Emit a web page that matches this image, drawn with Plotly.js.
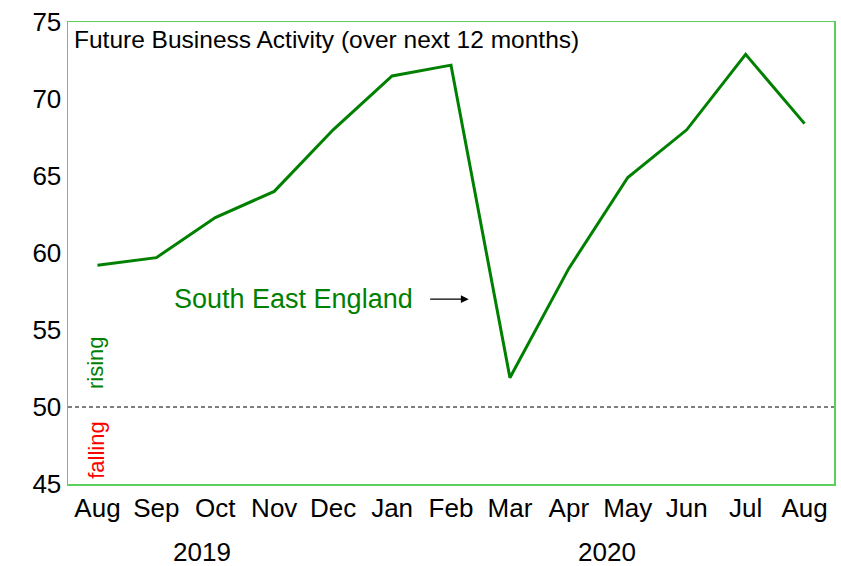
<!DOCTYPE html>
<html>
<head>
<meta charset="utf-8">
<script src="https://cdn.plot.ly/plotly-3.0.1.min.js"></script>
<style>html,body{margin:0;padding:0;background:#fff;}#chart{width:841px;height:566px;}</style>
</head>
<body>
<div id="chart"></div>
<script>
const months = ["Aug","Sep","Oct","Nov","Dec","Jan","Feb","Mar","Apr","May","Jun","Jul","Aug"];
const values = [59.2, 59.7, 62.3, 64.0, 68.0, 71.5, 72.2, 51.9, 59.0, 64.9, 68.0, 72.9, 68.4];
const yearLabels = ["2019", "2020"];
const yearPositions = [1.78, 8.64];
const seriesName = "South East England";
const chartTitle = "Future Business Activity (over next 12 months)";
const yTicks = [45, 50, 55, 60, 65, 70, 75];

const FONT = '"Liberation Sans", Arial, sans-serif';
const xIdx = months.map((m, i) => i);

const trace = {
  x: xIdx, y: values, type: "scatter", mode: "lines",
  line: {color: "#008000", width: 3},
  hoverinfo: "skip", showlegend: false
};

const annotations = [
  {text: chartTitle, xref: "paper", yref: "paper", x: 0.005, y: 0.995, xanchor: "left", yanchor: "top",
   showarrow: false, font: {family: FONT, size: 24.5, color: "#000"}},
  {text: seriesName, xref: "x", yref: "y", x: 3.33, y: 57.0, xanchor: "center", yanchor: "middle",
   showarrow: false, font: {family: FONT, size: 27, color: "#008000"}},
  {text: "", xref: "x", yref: "y", x: 6.3, y: 57.0, ax: -40, ay: 0, showarrow: true,
   arrowhead: 2, arrowsize: 1.2, arrowwidth: 1.3, arrowcolor: "#000"},
  {text: "rising", xref: "x", yref: "y", x: -0.03, y: 52.9, textangle: -90, showarrow: false,
   font: {family: FONT, size: 22, color: "#008000"}},
  {text: "falling", xref: "x", yref: "y", x: -0.03, y: 47.2, textangle: -90, showarrow: false,
   font: {family: FONT, size: 22, color: "#ff0000"}}
];
yearLabels.forEach((t, i) => annotations.push({
  text: t, xref: "x", yref: "paper", x: yearPositions[i], y: -0.147, yanchor: "middle",
  showarrow: false, font: {family: FONT, size: 26, color: "#000"}
}));

const layout = {
  width: 841, height: 566,
  margin: {l: 68, r: 7, t: 22, b: 82},
  paper_bgcolor: "#fff", plot_bgcolor: "#fff",
  font: {family: FONT, size: 26, color: "#000"},
  xaxis: {
    range: [-0.5, 12.5], tickmode: "array", tickvals: xIdx, ticktext: months,
    showgrid: false, zeroline: false, ticks: "", showline: true, linecolor: "#5ccf5c", linewidth: 1.5, mirror: true,
    tickfont: {family: FONT, size: 26, color: "#000"}, fixedrange: true
  },
  yaxis: {
    range: [45, 75], tickmode: "array", tickvals: yTicks,
    showgrid: false, zeroline: false, ticks: "", showline: true, linecolor: "#5ccf5c", linewidth: 1.5, mirror: true,
    tickfont: {family: FONT, size: 26, color: "#000"}, fixedrange: true
  },
  shapes: [
    {type: "line", xref: "paper", yref: "y", x0: 0, x1: 1, y0: 50, y1: 50,
     line: {color: "#000", width: 1, dash: "4px,3px"}}
  ],
  annotations: annotations
};

Plotly.newPlot("chart", [trace], layout, {staticPlot: true, displayModeBar: false});
</script>
</body>
</html>
